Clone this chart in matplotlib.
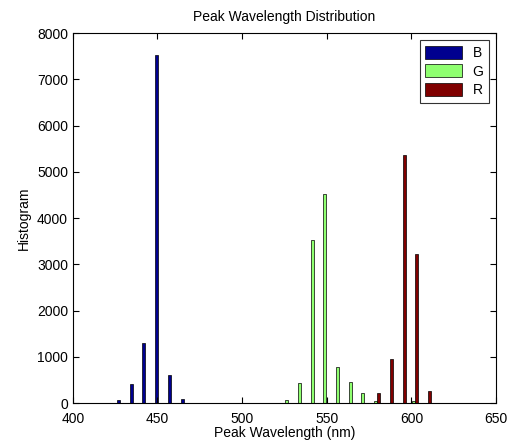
import numpy as np
import matplotlib.pyplot as plt

plt.rcParams['font.family'] = ['Liberation Sans', 'DejaVu Sans']

# bin centres (nm) and counts
x_b = [427.0, 434.5, 442.0, 449.5, 457.0, 464.5]
h_b = [70, 425, 1310, 7530, 600, 80]

x_g = [526.3, 533.8, 541.3, 548.8, 556.3, 563.8, 571.3, 578.8, 601.3]
h_g = [65, 430, 3520, 4530, 780, 450, 215, 40, 40]

x_r = [580.7, 588.2, 595.7, 603.2, 610.7]
h_r = [210, 950, 5365, 3220, 260]

labels = ['B', 'G', 'R']
colors = ['#00008F', '#8FFF70', '#800000']

fig = plt.figure(figsize=(5.13, 4.47), dpi=100)
ax = fig.add_axes([0.142, 0.098, 0.825, 0.828])

w = 1.8
ax.bar(x_b, h_b, width=w, color=colors[0], edgecolor='black', linewidth=0.5, label=labels[0])
ax.bar(x_g, h_g, width=w, color=colors[1], edgecolor='black', linewidth=0.5, label=labels[1])
ax.bar(x_r, h_r, width=w, color=colors[2], edgecolor='black', linewidth=0.5, label=labels[2])

ax.set_xlim(400, 650)
ax.set_ylim(0, 8000)
ax.set_xticks(np.arange(400, 651, 50))
ax.set_yticks(np.arange(0, 8001, 1000))
ax.tick_params(direction='in', top=True, right=True, labelsize=10, length=4)
ax.tick_params(axis='x', pad=6)

ax.set_title('Peak Wavelength Distribution', fontsize=10, pad=9)
ax.set_xlabel('Peak Wavelength (nm)', fontsize=10, labelpad=0)
ax.set_ylabel('Histogram', fontsize=10)

leg = ax.legend(loc='upper right', fontsize=10, fancybox=False, edgecolor='black',
                handlelength=2.6, handleheight=1.1, borderaxespad=0.5, labelspacing=0.3)
leg.get_frame().set_linewidth(0.8)

plt.savefig('out.png', dpi=100)
